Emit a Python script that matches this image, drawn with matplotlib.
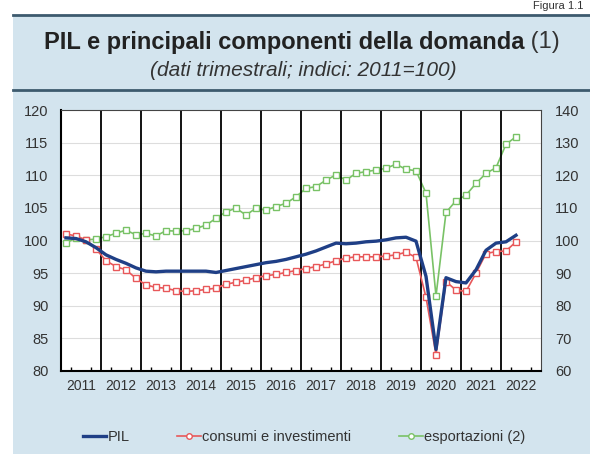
import numpy as np
import matplotlib
matplotlib.use("Agg")
import matplotlib.pyplot as plt
from matplotlib.lines import Line2D
from matplotlib.patches import Rectangle

plt.rcParams['font.family'] = ['Liberation Sans', 'DejaVu Sans']

years = [str(y) for y in range(2011, 2023)]

pil = [100.4, 100.3, 99.8, 98.9,
       97.8, 97.1, 96.5, 95.8,
       95.3, 95.2, 95.3, 95.3,
       95.3, 95.3, 95.3, 95.1,
       95.4, 95.7, 96.0, 96.3,
       96.6, 96.8, 97.1, 97.5,
       97.9, 98.4, 99.0, 99.6,
       99.5, 99.6, 99.8, 99.9,
       100.1, 100.4, 100.5, 99.9,
       94.5, 83.3, 94.3, 93.7,
       93.5, 95.5, 98.5, 99.6,
       99.8, 100.8]

consumi = [101.0, 100.7, 100.1, 98.7,
           96.9, 96.0, 95.5, 94.2,
           93.2, 92.8, 92.7, 92.3,
           92.2, 92.3, 92.5, 92.7,
           93.3, 93.6, 93.9, 94.3,
           94.6, 94.8, 95.1, 95.4,
           95.7, 96.0, 96.4, 96.9,
           97.3, 97.5, 97.5, 97.5,
           97.6, 97.8, 98.2, 97.4,
           91.3, 82.5, 93.7, 92.4,
           92.2, 95.0, 98.0, 98.3,
           98.4, 99.8]

esportazioni = [99.3, 100.7, 100.2, 100.4,
                101.2, 102.2, 103.2, 101.7,
                102.2, 101.4, 103.0, 102.9,
                103.0, 103.7, 104.7, 106.8,
                108.8, 109.9, 107.8, 109.9,
                109.3, 110.4, 111.4, 113.4,
                116.0, 116.5, 118.5, 120.1,
                118.5, 120.6, 121.1, 121.6,
                122.1, 123.4, 121.8, 121.4,
                114.5, 83.0, 108.6, 112.2,
                113.9, 117.5, 120.6, 122.3,
                129.5, 131.8]

left_ticks = [80, 85, 90, 95, 100, 105, 110, 115, 120]
right_ticks = [60, 70, 80, 90, 100, 110, 120, 130, 140]

W, H = 590, 454
fig = plt.figure(figsize=(W / 100, H / 100), dpi=100)
fig.patch.set_facecolor('white')

bg = '#d3e4ee'
panel = Rectangle((13 / W, 0), 1 - 13 / W, 1 - 15 / H, transform=fig.transFigure,
                  facecolor=bg, edgecolor='none', zorder=-10)
fig.patches.append(panel)
for yy in (15, 90):
    fig.add_artist(Line2D([13 / W, 1], [1 - yy / H, 1 - yy / H], transform=fig.transFigure,
                          color='#3d5a6e', lw=2.0, zorder=-5))

fig.text(583 / W, 1 - 1 / H, 'Figura 1.1', ha='right', va='top', fontsize=8, color='#333333')

t1 = fig.text(0.5, 1 - 42 / H, 'PIL e principali componenti della domanda', ha='left', va='center',
              fontsize=17, fontweight='bold', color='#222222')
r1 = fig.text(0.5, 1 - 42 / H, ' (1)', ha='left', va='center', fontsize=17, color='#333333')
fig.canvas.draw()
w1 = t1.get_window_extent().width
w2 = r1.get_window_extent().width
x0 = 302 - (w1 + w2) / 2
t1.set_position((x0 / W, 1 - 42 / H))
r1.set_position(((x0 + w1) / W, 1 - 42 / H))
fig.text(303 / W, 1 - 70 / H, '(dati trimestrali; indici: 2011=100)', ha='center', va='center',
         fontsize=15, style='italic', color='#333333')

ax = fig.add_axes([61 / W, (H - 371) / H, 480 / W, 261 / H])
ax2 = ax.twinx()

red = '#e8585a'
green = '#79c266'
blue = '#1f3f86'

n = len(pil)
x = np.arange(n)

ax2.set_zorder(0)
ax.set_zorder(1)
ax2.patch.set_visible(True)
ax2.patch.set_facecolor('white')
ax.patch.set_visible(False)

ax2.set_ylim(60, 140)
ax2.set_yticks(right_ticks)
ax2.tick_params(axis='y', length=0, labelsize=10.5, pad=10, colors='#333333')
for s in ax2.spines.values():
    s.set_visible(False)
for v in right_ticks[1:-1]:
    ax2.axhline(v, color='#dddddd', lw=0.8, zorder=1)
ax2.plot(x, esportazioni, color=green, lw=1.2, marker='s', ms=4.2, mfc='white', mec=green,
         mew=1.0, zorder=3)

ax.set_xlim(-0.5, 4 * len(years) - 0.5)
ax.set_ylim(80, 120)
ax.set_yticks(left_ticks)
for k in range(1, len(years)):
    ax.axvline(-0.5 + 4 * k, color='black', lw=1.3, zorder=2)

ax.set_xticks([1.5 + 4 * k for k in range(len(years))])
ax.set_xticklabels(years)
ax.set_xticks([-0.5 + q for q in range(4 * len(years)) if q % 4 != 0], minor=True)
ax.tick_params(axis='x', which='major', length=0, labelsize=10, pad=6, colors='#333333')
ax.tick_params(axis='x', which='minor', direction='in', length=3, width=1, color='black')
ax.tick_params(axis='y', length=0, labelsize=10.5, pad=9, colors='#333333')

for s in ['left', 'bottom']:
    ax.spines[s].set_linewidth(1.5)
for s in ['top', 'right']:
    ax.spines[s].set_linewidth(0.8)
    ax.spines[s].set_color('#444444')

ax.plot(x, consumi, color=red, lw=1.2, marker='s', ms=4.2, mfc='white', mec=red, mew=1.0, zorder=4)
ax.plot(x, pil, color=blue, lw=2.4, zorder=5)

handles = [Line2D([], [], color=blue, lw=2.4),
           Line2D([], [], color=red, lw=1.2, marker='o', ms=4, mfc='white', mec=red),
           Line2D([], [], color=green, lw=1.2, marker='o', ms=4, mfc='white', mec=green)]
labels = ['PIL', 'consumi e investimenti', 'esportazioni (2)']
fig.legend(handles, labels, loc='center', bbox_to_anchor=(304 / W, 1 - 437 / H), ncol=3,
           frameon=False, fontsize=10.5, handlelength=1.6, handletextpad=0.1, columnspacing=3.3,
           labelcolor='#333333')

fig.savefig('out.png', dpi=100, facecolor=fig.get_facecolor())
